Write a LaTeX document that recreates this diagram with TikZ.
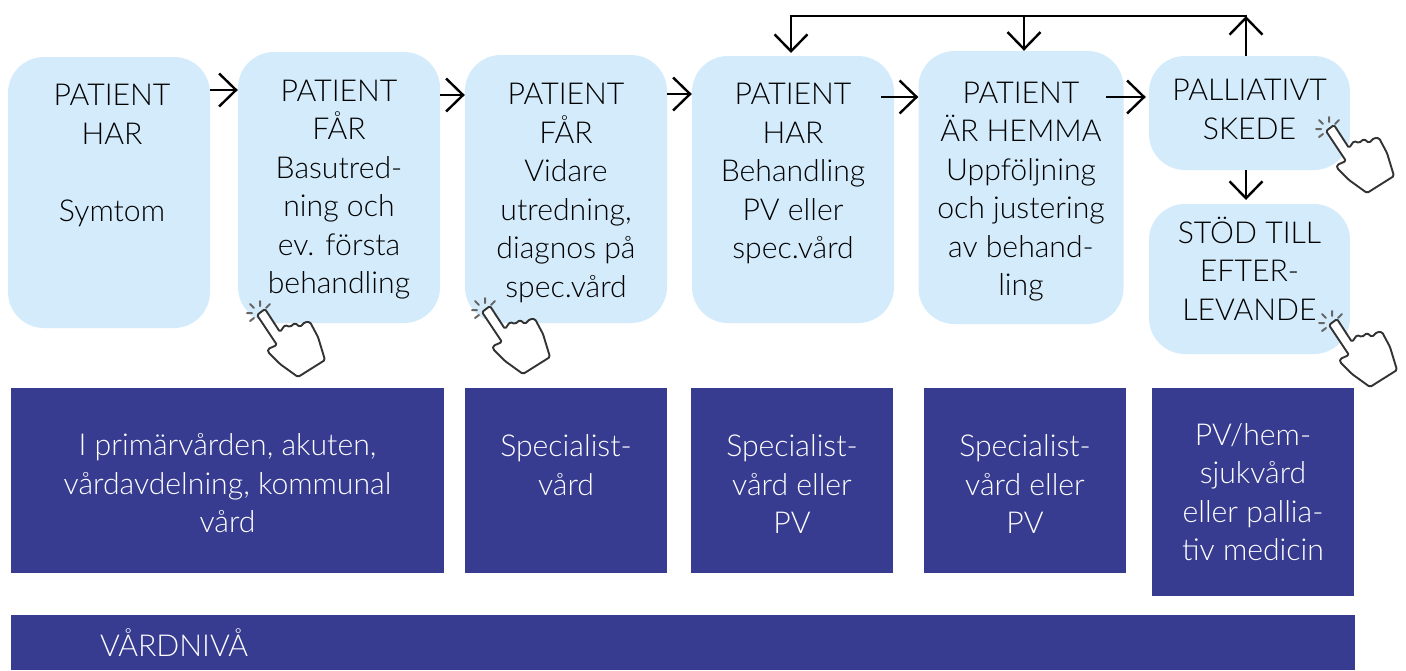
\documentclass[tikz,border=0pt]{standalone}
\usepackage{fontspec}
\setmainfont{Lato Light}
\usetikzlibrary{arrows.meta}
\definecolor{lightb}{HTML}{D3EBFB}
\definecolor{darkb}{HTML}{373C91}
\newcommand\shr{\hspace*{6pt}}
\newcommand\lead{\vphantom{P}}
\tikzset{
  x=1pt,y=-1pt,
  soft/.style={fill=lightb,rounded corners=36pt,minimum width=#1,align=center,inner sep=0pt,
    font=\fontsize{30.2}{38.5}\selectfont,text=black},
  solid box/.style={fill=darkb,align=center,inner sep=0pt,
    font=\fontsize{30.2}{38.5}\selectfont,text=white},
  arr/.style={draw=black,line width=2.4pt,-{Straight Barb[length=17pt,width=33pt,line width=2.4pt]}},
  plain line/.style={draw=black,line width=2.4pt},
  hand/.pic={
    \draw[line width=1.9pt,draw=black!80,fill=white,rounded corners=1.5pt,line join=round]
      (-3,3)--(5,-3)--(20,20)--(25,13)--(30,15)--(35,11)--(40,15)--(45,10)--(50,10)--(58,25)--(65,48)
      --(38,65)--(20,52)--(8,40)--(8,37)--(17,33)--cycle;
    \draw[line width=2pt,draw=black!60,line cap=round]
      (0,-6)--(0,-11) (-6,-4)--(-10,-8) (6,-4)--(10,-8) (-8,1)--(-13,1) (-6,6)--(-10,9);
  }
}
\begin{document}
\begin{tikzpicture}
\useasboundingbox (0,0) rectangle (1406,670);
\node[soft=202pt,minimum height=271pt] (a) at (109,192.5) {\shr PATIENT\\\shr HAR\\\mbox{}\\\shr Symtom\\\mbox{}\\\mbox{}\\[-36.5pt]\mbox{}};
\node[soft=202pt,minimum height=271pt] (b) at (339,187.5) {\lead\\[-34.5pt]PATIENT\\FÅR\\Basutred-\\ning och\\ev. första\\behandling};
\node[soft=202pt,minimum height=268pt] (c) at (566,189) {\lead\\[-30.5pt]PATIENT\\FÅR\\Vidare\\utredning,\\diagnos på\\spec.vård};
\node[soft=202pt,minimum height=267pt] (d) at (793,189.5) {\lead\\[-36.5pt]PATIENT\\HAR\\Behandling\\PV eller\\spec.vård\\\mbox{}};
\node[soft=205pt,minimum height=273pt] (e) at (1021,187.5) {\lead\\[-30.5pt]PATIENT\\ÄR HEMMA\\Uppföljning\\och justering\\av behand-\\ling};
\node[soft=201pt,minimum height=114pt] (f) at (1249.5,113) {PALLIATIVT\\SKEDE\\[-31pt]\mbox{}};
\node[soft=201pt,minimum height=150pt] (g) at (1249.5,279) {STÖD TILL\\EFTER-\\LEVANDE\\[-18pt]\mbox{}};

\node[solid box,minimum width=433pt,minimum height=185pt] (h) at (227.5,480.5) {\lead\\[-32pt]I primärvården, akuten,\\vårdavdelning, kommunal\\vård};
\node[solid box,minimum width=202pt,minimum height=185pt] (i) at (566,480.5) {\lead\\[-30.5pt]Specialist-\\vård\\\mbox{}};
\node[solid box,minimum width=202pt,minimum height=185pt] (j) at (792,480.5) {\lead\\[-30.5pt]Specialist-\\vård eller\\PV};
\node[solid box,minimum width=202pt,minimum height=185pt] (k) at (1025,480.5) {\lead\\[-30.5pt]Specialist-\\vård eller\\PV};
\node[solid box,minimum width=202pt,minimum height=208pt] (l) at (1253,492) {PV/hem-\\sjukvård\\eller pallia-\\tiv medicin};
\node[solid box,minimum width=1344pt,minimum height=55pt,text width=1166pt,align=left] (m) at (683,642.5) {VÅRDNIVÅ};

\draw[arr] (a.east |- 0,90) -- (b.west |- 0,90);
\draw[arr] (b.east |- 0,95) -- (c.west |- 0,95);
\draw[arr] (c.east |- 0,94) -- (d.west |- 0,94);
\coordinate (d out) at (881,97);
\coordinate (e out) at (1106,97);
\draw[arr] (d out) -- (e.west |- d out);
\draw[arr] (e out) -- ([xshift=-3pt]f.west |- e out);
\coordinate (top left) at (791,16);
\coordinate (top mid) at (1024,16);
\coordinate (top right) at (1246,16);
\draw[plain line,line cap=rect] (top left) -- (top right);
\draw[arr] (top left) -- (top left |- 0,53);
\draw[arr] (top mid) -- (top mid |- e.north);
\draw[arr] (top right |- f.north) -- (top right);
\draw[arr] (top right |- f.south) -- (top right |- 0,200);

\pic at (260,312) {hand};
\pic at (485,309) {hand};
\pic at (1329,128) {hand};
\pic at (1332,322) {hand};
\end{tikzpicture}
\end{document}
